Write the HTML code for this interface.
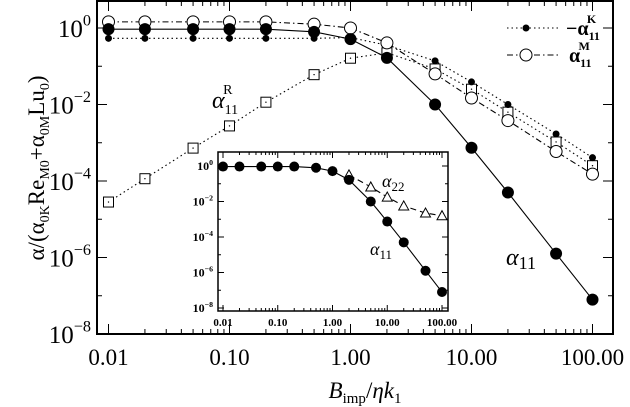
<!DOCTYPE html>
<html><head><meta charset="utf-8"><style>
body{margin:0;background:#fff}
svg{display:block;font-family:"Liberation Serif","DejaVu Serif",serif}
</style></head><body>
<svg id="chart" width="630" height="407" viewBox="0 0 630 407" xmlns="http://www.w3.org/2000/svg">
<g id="main"></g>
<g id="inset"></g>
<text transform="translate(44,168) rotate(-90)" text-anchor="middle" font-size="23">α/(α<tspan font-size="14" dy="5">0K</tspan><tspan dy="-5">Re</tspan><tspan font-size="14" dy="5">M0</tspan><tspan dy="-5">+α</tspan><tspan font-size="14" dy="5">0M</tspan><tspan dy="-5">Lu</tspan><tspan font-size="14" dy="5">0</tspan><tspan dy="-5">)</tspan></text>
<text x="365" y="398" text-anchor="middle" font-size="23"><tspan font-style="italic">B</tspan><tspan font-size="15" dy="5">imp</tspan><tspan dy="-5">/</tspan><tspan font-style="italic">ηk</tspan><tspan font-size="15" dy="5">1</tspan></text>
<text x="212" y="108" font-size="24" font-style="italic">α<tspan font-size="14" dy="6" font-style="normal">11</tspan><tspan font-size="14" dx="-15" dy="-20" font-style="normal">R</tspan></text>
<text x="506" y="265" font-size="24" font-style="italic">α<tspan font-size="18" dy="4" font-style="normal">11</tspan></text>
<text x="370" y="255" font-size="18" font-style="italic">α<tspan font-size="13" dy="4" font-style="normal">11</tspan></text>
<text x="382" y="187" font-size="18" font-style="italic">α<tspan font-size="13" dy="4" font-style="normal">22</tspan></text>
<g>
<line x1="507" y1="28" x2="560" y2="28" stroke="#000" stroke-dasharray="1.5,3"/>
<circle cx="526" cy="28" r="3.5" fill="#000"/>
<text x="566" y="35" font-size="20" font-weight="bold">−α<tspan font-size="12" dy="5">11</tspan><tspan font-size="12" dx="-13" dy="-17">K</tspan></text>
<line x1="507" y1="55" x2="560" y2="55" stroke="#000" stroke-dasharray="6,3,1.5,3"/>
<circle cx="526" cy="55" r="6" fill="#fff" stroke="#000"/>
<text x="569" y="62" font-size="20" font-weight="bold">α<tspan font-size="12" dy="5">11</tspan><tspan font-size="12" dx="-13" dy="-17">M</tspan></text>
</g>
<g stroke="#000" stroke-width="2">
<line x1="97" y1="1" x2="613" y2="1"/>
<line x1="97" y1="334" x2="613" y2="334"/>
<line x1="97" y1="0" x2="97" y2="335"/>
<line x1="613" y1="0" x2="613" y2="335"/>
</g>
</svg>
<script>
const xs = [0.01,0.02,0.05,0.1,0.2,0.5,1,2,5,10,20,50,100];
const logA11 = [-0.03,-0.03,-0.03,-0.03,-0.03,-0.1,-0.29,-0.78,-2.0,-3.13,-4.3,-5.9,-7.1];
const logK = [-0.27,-0.27,-0.27,-0.27,-0.27,-0.27,-0.25,-0.45,-0.86,-1.41,-2.0,-2.77,-3.39];
const logM = [0.16,0.16,0.16,0.16,0.16,0.1,0,-0.39,-1.2,-1.83,-2.42,-3.23,-3.82];
const logR = [-4.55,-3.94,-3.14,-2.56,-1.94,-1.22,-0.79,-0.65,-1.07,-1.6,-2.2,-2.98,-3.6];
const xs22 = [2,5,10,20,50,100];
const log22 = [-0.5,-1.18,-1.75,-2.25,-2.65,-2.8];
const xTickLabels = ["0.01","0.10","1.00","10.00","100.00"];
const yTickExps = [0,-2,-4,-6,-8];

const NS="http://www.w3.org/2000/svg";
function mk(p,t,a){const e=document.createElementNS(NS,t);for(const k in a)e.setAttribute(k,a[k]);p.appendChild(e);return e;}

function drawPanel(g, o){
  const X=v=>o.x0+(Math.log10(v)+2)*o.dx;
  const Y=l=>o.y0-l*o.dy;
  mk(g,'rect',{x:o.L,y:o.T,width:o.R-o.L,height:o.B-o.T,fill:'#fff',stroke:'#000','stroke-width':o.sw});
  for(let d=-2;d<=2;d++){
    for(let m=1;m<=9;m++){
      const v=m*Math.pow(10,d); if(d==2&&m>1)break;
      const px=X(v); if(px<o.L||px>o.R)continue;
      const len=m==1?o.maj:o.min;
      const t1=mk(g,'line',{x1:px,y1:o.B,x2:px,y2:o.B-len,stroke:'#000','stroke-width':1});
      
      
      mk(g,'line',{x1:px,y1:o.T,x2:px,y2:o.T+len,stroke:'#000','stroke-width':1});
    }
  }
  for(let k=-2;k<=2;k++){
    const t=mk(g,'text',{x:X(Math.pow(10,k)),y:o.B+o.lblOff,'text-anchor':'middle','font-size':o.fs,'font-weight':o.fw});
    
    
    t.textContent=xTickLabels[k+2];
  }
  for(let l=0;l>=-8;l--){
    const py=Y(l); const len=(l%2==0)?o.maj:o.min;
    mk(g,'line',{x1:o.L,y1:py,x2:o.L+len,y2:py,stroke:'#000'});
    mk(g,'line',{x1:o.R,y1:py,x2:o.R-len,y2:py,stroke:'#000'});
  }
  yTickExps.forEach(e=>{
    const t=mk(g,'text',{x:o.L-o.ylOff,y:Y(e)+o.yfs*0.35,'text-anchor':'end','font-size':o.yfs,'font-weight':o.fw});
    
    
    t.innerHTML='10<tspan font-size="'+(o.yfs*0.65)+'" dy="'+(-o.yfs*0.45)+'">'+(e<0?'−'+(-e):e)+'</tspan>';
  });
  return {X,Y};
}
function series(g,X,Y,xv,lv,name,dash,marker,sz){
  const pts=xv.map((v,i)=>X(v)+','+Y(lv[i])).join(' ');
  const pl=mk(g,'polyline',{points:pts,fill:'none',stroke:'#000','stroke-width':1.1,'stroke-dasharray':dash});
  
  
  xv.forEach((v,i)=>{
    const cx=X(v),cy=Y(lv[i]);let m;
    if(marker=='fill')m=mk(g,'circle',{cx,cy,r:sz,fill:'#000'});
    else if(marker=='open')m=mk(g,'circle',{cx,cy,r:sz,fill:'#fff',stroke:'#000'});
    else if(marker=='square'){m=mk(g,'rect',{x:cx-sz,y:cy-sz,width:2*sz,height:2*sz,fill:'#fff',stroke:'#000'});mk(g,'circle',{cx,cy,r:0.7,fill:'#000'});}
    else m=mk(g,'polygon',{points:(cx-sz)+','+(cy+sz*0.8)+' '+(cx+sz)+','+(cy+sz*0.8)+' '+cx+','+(cy-sz),fill:'#fff',stroke:'#000'});
    
    
  });
}
const main=document.getElementById('main');
const a=drawPanel(main,{L:97,R:613,T:1,B:334,x0:108.5,dx:121,y0:28,dy:38.25,maj:10,min:5,fs:23,yfs:25,fw:'normal',lblOff:31,ylOff:6,sw:2});
series(main,a.X,a.Y,xs,logR,'alpha11-R','1.5,3','square',5);
series(main,a.X,a.Y,xs,logK,'alpha11-K','1.5,3','fill',3.5);
series(main,a.X,a.Y,xs,logM,'alpha11-M','6,3,1.5,3','open',6);
series(main,a.X,a.Y,xs,logA11,'alpha11',null,'fill',6);
const inset=document.getElementById('inset');
const b=drawPanel(inset,{L:218,R:448,T:152,B:311,x0:223,dx:54.75,y0:166,dy:17.75,maj:6,min:3,fs:11,yfs:12,fw:'bold',lblOff:15,ylOff:5,sw:1.5});
series(inset,b.X,b.Y,xs22,log22,'alpha22','6,4','tri',5);
series(inset,b.X,b.Y,xs,logA11,'inset-alpha11',null,'fill',5);
</script>
</body></html>
